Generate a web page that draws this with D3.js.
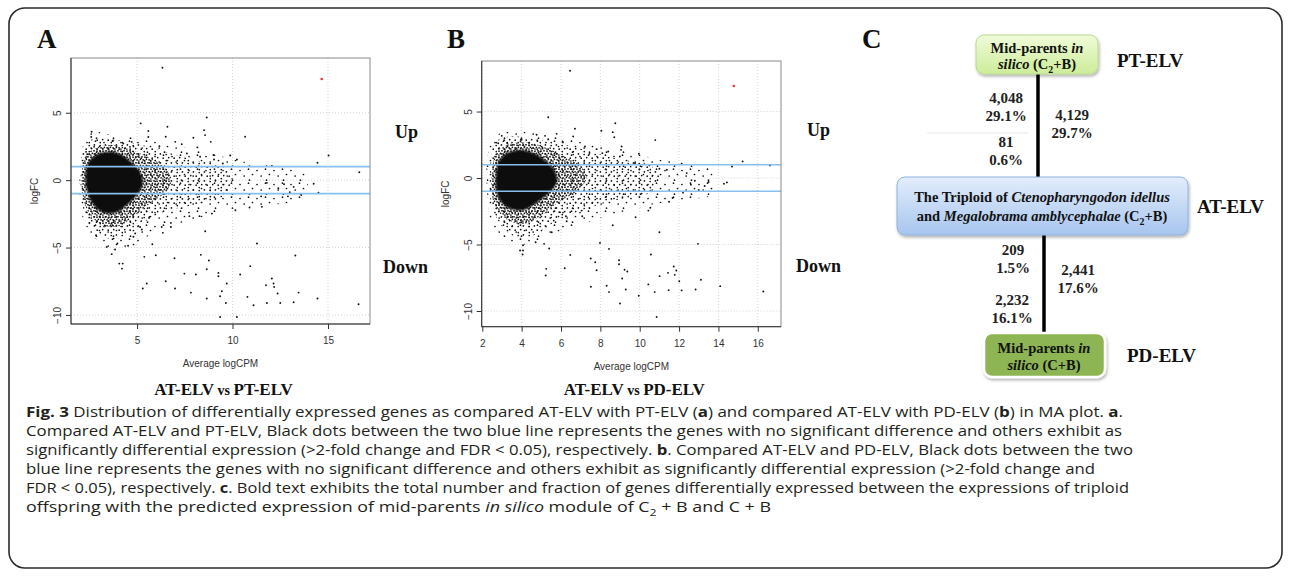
<!DOCTYPE html>
<html>
<head>
<meta charset="utf-8">
<script src="https://cdn.jsdelivr.net/npm/d3@7"></script>
<style>
  body { margin: 0; background: #fff; }
  svg { display: block; }
  .serif { font-family: "Liberation Serif", "Times New Roman", serif; font-weight: bold; fill: #111; }
  .tick text { font-family: "Liberation Sans", Arial, sans-serif; font-size: 10px; fill: #333; }
  .axlab { font-family: "Liberation Sans", Arial, sans-serif; font-size: 10px; fill: #333; }
  .cap { font-family: "Open Sans", "Noto Sans", sans-serif; font-size: 14px; fill: #231f20; }
</style>
</head>
<body>
<svg id="fig" width="1290" height="578"></svg>
<script>
// ---- data: MA plot axes
const xTicksA = [5, 10, 15];
const xTicksB = [2, 4, 6, 8, 10, 12, 14, 16];
const yTicks = [5, 0, -5, -10];
const foldCut = [1, -1]; // blue lines (logFC = +/-1)

// density outlines of the dense cloud (logCPM, logFC)
const coreA = [[2.3,0.3],[2.45,1.3],[2.9,1.9],[3.6,2.1],[4.3,1.8],[4.8,1.2],[5.2,0.5],[5.3,-0.3],[5.0,-1.1],[4.5,-1.8],[3.9,-2.4],[3.2,-2.4],[2.7,-1.8],[2.4,-0.9]];
const denseA = [[2.1,0.5],[2.3,1.8],[2.9,2.4],[3.7,2.6],[4.6,2.3],[5.6,1.7],[6.4,1.0],[6.8,0.0],[6.4,-1.0],[5.6,-1.8],[4.8,-2.7],[4.1,-3.4],[3.3,-3.4],[2.6,-2.7],[2.2,-1.5]];
const mediumA = [[2.05,0.5],[2.2,2.5],[2.8,3.1],[3.8,3.0],[5.0,2.7],[6.5,2.1],[8.0,1.5],[9.5,1.0],[10.0,0.2],[9.5,-1.2],[8.0,-1.8],[6.5,-2.3],[5.5,-3.0],[4.6,-3.9],[3.8,-4.4],[3.0,-4.0],[2.4,-3.0],[2.1,-1.5]];
const sparseA = [[2.1,2.0],[2.5,3.6],[3.5,3.4],[5.0,3.2],[7.0,2.6],[8.8,2.0],[10.5,1.4],[12.2,1.1],[13.8,0.4],[13.8,-1.3],[12.3,-1.8],[10.5,-2.0],[8.8,-2.6],[7.0,-3.3],[5.5,-4.2],[4.4,-5.2],[3.5,-5.0],[2.6,-4.0],[2.1,-2.5]];

const coreB = [[2.7,0.3],[2.85,1.3],[3.3,1.9],[4.0,2.1],[4.7,1.8],[5.3,1.2],[5.7,0.5],[5.8,-0.3],[5.4,-1.1],[4.8,-1.8],[4.1,-2.4],[3.4,-2.3],[2.9,-1.7],[2.7,-0.8]];
const denseB = [[2.5,0.5],[2.7,1.9],[3.3,2.5],[4.2,2.7],[5.2,2.3],[6.2,1.6],[7.0,0.9],[7.3,0.0],[6.8,-1.0],[5.9,-1.8],[5.0,-2.8],[4.3,-3.4],[3.5,-3.3],[2.8,-2.5],[2.5,-1.4]];
const mediumB = [[2.4,0.5],[2.6,2.6],[3.3,3.1],[4.5,3.0],[6.0,2.6],[7.5,2.0],[9.0,1.4],[10.5,1.0],[11.0,0.0],[10.5,-1.1],[9.0,-1.6],[7.5,-2.2],[6.3,-2.9],[5.2,-3.7],[4.3,-4.5],[3.4,-4.2],[2.8,-3.2],[2.4,-1.5]];
const sparseB = [[2.3,2.0],[2.8,3.3],[4.0,3.5],[5.5,3.2],[7.5,2.6],[9.3,2.0],[11.0,1.4],[12.5,1.1],[13.6,0.6],[13.7,-1.2],[12.5,-1.6],[11.0,-1.9],[9.5,-2.4],[8.0,-3.0],[6.5,-3.8],[5.0,-4.6],[4.0,-5.0],[3.2,-4.6],[2.5,-3.5],[2.3,-2.0]];

// individual genes outside the cloud
const pointsA = [
  [6.33,8.34],[8.65,4.65],[5.19,4.21],[6.59,3.96],[5.59,3.64],[5.59,3.2],[8.51,3.71],[8.56,3.34],[10.66,3.22],[8.86,2.84],
  [7.95,3.14],[6.5,3.22],[7.0,2.84],[15.03,1.83],[14.45,1.29],[16.64,0.59],[9.88,1.83],[10.23,1.53],[12.06,1.06],[14.25,-0.27],
  [14.5,-0.94],[2.62,3.59],[2.6,3.2],[2.33,2.1],[3.73,2.92],[4.28,2.72],[4.72,2.84],[4.63,2.47],[2.75,2.47],[2.39,1.93],
  [6.17,2.52],[7.34,2.67],[7.61,1.98],[8.16,2.43],[8.3,1.73],[9.0,1.86],[9.03,1.53],[9.49,1.24],
  [13.2,-0.5],[13.0,-0.9],[12.7,-0.3],[12.4,-0.6],[11.8,-0.2],[11.5,-1.2],[13.6,-1.1],[12.9,-1.2],
  [11.28,-4.7],[13.29,-5.59],[5.8,-4.75],[5.98,-5.57],[5.38,-5.69],[4.07,-6.19],[4.25,-6.19],[4.21,-6.56],[6.96,-5.79],[8.34,-5.54],
  [8.76,-5.96],[10.93,-6.38],[7.48,-6.93],[8.08,-7.0],[8.65,-6.61],[9.26,-6.88],[9.26,-7.13],[10.4,-7.0],[6.5,-7.5],[5.51,-7.67],
  [5.3,-8.04],[6.99,-8.04],[9.7,-7.67],[9.44,-8.24],[7.82,-8.34],[8.65,-8.78],[9.35,-8.61],[9.65,-9.11],[10.78,-8.66],[11.1,-9.28],
  [11.8,-9.11],[12.06,-7.3],[12.15,-7.67],[12.18,-7.92],[11.75,-7.8],[12.36,-8.41],[12.5,-9.11],[13.2,-9.06],[13.46,-8.34],[14.45,-8.78],
  [16.6,-9.21],[9.35,-10.15],[10.23,-10.15],[10.15,-2.23],[11.54,-1.98],[8.57,-3.79],[7.74,-2.67],[8.27,-2.67],[8.92,-2.48],[6.29,-3.47],
  [6.35,-3.91],[6.77,-3.17],[6.77,-3.47],[5.63,-2.8],[5.16,-3.47],[5.25,-3.66],[3.41,-4.95],[3.67,-5.49],[3.85,-5.14],[3.97,-4.7],
  [4.53,-4.87],[2.5,-3.17],[2.85,-4.08],[4.81,-4.2],[4.9,-3.95],[10.89,-2.03]
];
const pointsB = [
  [6.46,8.07],[5.35,4.57],[6.71,3.7],[8.76,4.12],[8.05,3.55],[8.63,3.45],[8.71,3.07],[10.79,2.85],[4.76,3.25],[2.99,3.17],
  [5.78,3.32],[4.0,2.87],[9.96,1.82],[12.13,1.07],[15.23,1.25],[14.69,0.87],[16.62,0.95],[14.28,-0.43],[14.43,-0.33],[9.05,2.12],
  [10.49,0.95],[11.38,0.62],[2.81,2.62],[3.27,2.62],[5.19,3.17],[5.35,2.92],[6.08,2.75],[6.62,3.12],[7.22,2.37],[7.81,2.17],
  [8.1,1.87],[8.4,2.0],[9.08,2.37],[8.99,1.62],[9.76,1.12],[11.0,0.7],[12.39,0.37],
  [12.8,-0.2],[13.3,-0.6],[13.0,-0.9],[12.6,-0.5],[13.5,-0.3],[12.2,-1.1],
  [8.63,-3.55],[11.0,-4.08],[9.79,-2.95],[5.53,-4.08],[4.71,-4.83],[5.14,-4.95],[4.07,-5.05],[3.92,-5.45],[4.07,-5.45],[4.05,-5.75],
  [12.96,-4.95],[5.4,-5.3],[7.98,-4.88],[8.44,-5.33],[6.47,-5.78],[10.57,-5.75],[7.51,-6.05],[7.74,-6.33],[7.81,-6.93],[8.95,-6.18],
  [8.95,-6.48],[5.25,-6.83],[5.22,-7.33],[6.19,-6.78],[9.23,-6.9],[9.37,-7.03],[9.11,-7.55],[11.73,-6.65],[11.86,-6.95],[11.78,-7.28],
  [11.44,-7.13],[11.01,-7.38],[12.01,-7.76],[13.11,-7.65],[10.44,-8.0],[7.52,-8.18],[8.32,-8.1],[8.44,-8.58],[9.29,-8.38],[10.76,-8.58],
  [11.47,-8.43],[12.13,-8.45],[12.84,-8.38],[14.09,-8.13],[9.95,-8.85],[9.0,-9.43],[10.86,-10.45],[16.28,-8.53],[10.44,-2.45],[10.54,-2.23],
  [11.49,-1.78],[11.67,-1.5],[7.05,-2.45],[7.08,-2.88],[6.25,-2.88],[6.29,-3.25],[5.95,-2.58]
];
const redA = [[14.67, 7.5]];
const redB = [[14.78, 6.92]];

// ---- data: panel C
const levelNames = ["PT-ELV", "AT-ELV", "PD-ELV"];
const upperCounts = [["4,048", "29.1%"], ["81", "0.6%"], ["4,129", "29.7%"]];
const lowerCounts = [["209", "1.5%"], ["2,441", "17.6%"], ["2,232", "16.1%"]];
const boxTop = [[["Mid-parents ", ""], ["in", "i"]], [["silico", "i"], [" (C", ""], ["2", "sub"], ["+B)", ""]]];
const boxMid = [[["The Triploid of ", ""], ["Ctenopharyngodon idellus", "i"]],
                [["and ", ""], ["Megalobrama amblycephalae", "i"], [" (C", ""], ["2", "sub"], ["+B)", ""]]];
const boxLow = [[["Mid-parents ", ""], ["in", "i"]], [["silico", "i"], [" (C+B)", ""]]];

// ---- data: caption
const captionLines = [
  [["Fig. 3", "b"], [" Distribution of differentially expressed genes as compared AT-ELV with PT-ELV (", ""], ["a", "b"], [") and compared AT-ELV with PD-ELV (", ""], ["b", "b"], [") in MA plot. ", ""], ["a", "b"], [".", ""]],
  [["Compared AT-ELV and PT-ELV, Black dots between the two blue line represents the genes with no significant difference and others exhibit as", ""]],
  [["significantly differential expression (>2-fold change and FDR < 0.05), respectively. ", ""], ["b", "b"], [". Compared AT-ELV and PD-ELV, Black dots between the two", ""]],
  [["blue line represents the genes with no significant difference and others exhibit as significantly differential expression (>2-fold change and", ""]],
  [["FDR < 0.05), respectively. ", ""], ["c", "b"], [". Bold text exhibits the total number and fraction of genes differentially expressed between the expressions of triploid", ""]],
  [["offspring with the predicted expression of mid-parents ", ""], ["in silico", "i"], [" module of C", ""], ["2", "sub"], [" + B and C + B", ""]]
];

// ---- drawing
const svg = d3.select("#fig");
svg.append("rect").attr("width", 1290).attr("height", 578).attr("fill", "#fff");
const defs = svg.append("defs");

function dotPattern(id, w, h, pts) {
  const p = defs.append("pattern").attr("id", id)
    .attr("patternUnits", "userSpaceOnUse").attr("width", w).attr("height", h);
  pts.forEach(([cx, cy]) => p.append("circle").attr("cx", cx).attr("cy", cy).attr("r", 0.85).attr("fill", "#111"));
}
dotPattern("patDense", 6, 6, [[1.0,1.2],[4.0,0.8],[2.4,3.3],[5.1,3.8],[0.9,5.0]]);
dotPattern("patMedium", 11, 9, [[1.2,1.5],[6.4,0.9],[3.7,4.6],[9.2,5.2],[1.3,7.6]]);
dotPattern("patSparse", 17, 14, [[2,2.5],[10.5,1.2],[6.2,8.0],[14.5,6.5],[11.5,12.2]]);
defs.append("filter").attr("id", "soft").append("feGaussianBlur").attr("stdDeviation", 1.3);

function grad(id, top, bottom) {
  const g = defs.append("linearGradient").attr("id", id).attr("x1", 0).attr("y1", 0).attr("x2", 0).attr("y2", 1);
  g.append("stop").attr("offset", "0%").attr("stop-color", top);
  g.append("stop").attr("offset", "100%").attr("stop-color", bottom);
}
grad("gGreen", "#f0fbd9", "#cdec9a");
grad("gBlue", "#e3edfc", "#a7c5ee");
const shadow = defs.append("filter").attr("id", "shadow").attr("x", "-10%").attr("y", "-10%").attr("width", "130%").attr("height", "140%");
shadow.append("feDropShadow").attr("dx", 1).attr("dy", 2).attr("stdDeviation", 1.5).attr("flood-color", "#000").attr("flood-opacity", 0.3);

// outer rounded frame
svg.append("rect").attr("x", 9).attr("y", 8).attr("width", 1273).attr("height", 560).attr("rx", 16)
  .attr("fill", "none").attr("stroke", "#2b2b2b").attr("stroke-width", 1.6);

function drawMA(p) {
  const g = svg.append("g");
  const [xl, xr] = p.x.range();
  const [yb, yt] = p.y.range();
  const clipId = "clip" + p.name;
  defs.append("clipPath").attr("id", clipId).append("rect")
    .attr("x", xl).attr("y", yt).attr("width", xr - xl).attr("height", yb - yt);

  // grid
  g.selectAll("line.gx").data(p.xTicks).join("line").attr("class", "gx")
    .attr("x1", d => p.x(d)).attr("x2", d => p.x(d)).attr("y1", yt).attr("y2", yb)
    .attr("stroke", "#d4d4d4").attr("stroke-dasharray", "1,2");
  g.selectAll("line.gy").data(yTicks).join("line").attr("class", "gy")
    .attr("y1", d => p.y(d)).attr("y2", d => p.y(d)).attr("x1", xl).attr("x2", xr)
    .attr("stroke", "#d4d4d4").attr("stroke-dasharray", "1,2");

  // dense cloud
  const cloud = d3.line().x(d => p.x(d[0])).y(d => p.y(d[1])).curve(d3.curveCatmullRomClosed.alpha(0.5));
  const cg = g.append("g").attr("clip-path", `url(#${clipId})`);
  cg.append("path").attr("d", cloud(p.sparse)).attr("fill", "url(#patSparse)");
  cg.append("path").attr("d", cloud(p.medium)).attr("fill", "url(#patMedium)");
  cg.append("path").attr("d", cloud(p.dense)).attr("fill", "url(#patDense)");
  cg.append("path").attr("d", cloud(p.core)).attr("fill", "#0a0a0a").attr("filter", "url(#soft)");

  g.selectAll("circle.pt").data(p.points).join("circle").attr("class", "pt")
    .attr("cx", d => p.x(d[0])).attr("cy", d => p.y(d[1])).attr("r", 0.95).attr("fill", "#111");
  g.selectAll("circle.red").data(p.red).join("circle").attr("class", "red")
    .attr("cx", d => p.x(d[0])).attr("cy", d => p.y(d[1])).attr("r", 1.3).attr("fill", "#e8333a");

  // fold change cutoffs
  g.selectAll("line.cut").data(foldCut).join("line").attr("class", "cut")
    .attr("x1", xl).attr("x2", xr).attr("y1", d => p.y(d)).attr("y2", d => p.y(d))
    .attr("stroke", "#86c0f0").attr("stroke-width", 1.6);

  // frame
  g.append("rect").attr("x", xl).attr("y", yt).attr("width", xr - xl).attr("height", yb - yt)
    .attr("fill", "none").attr("stroke", "#8a8a8a").attr("stroke-width", 1);

  // axes
  const ax = g.append("g").attr("transform", `translate(0,${yb})`)
    .call(d3.axisBottom(p.x).tickValues(p.xTicks).tickSize(5).tickPadding(8).tickSizeOuter(0));
  ax.select(".domain").attr("d", `M${xl},0H${xr}`).attr("stroke", "#333");
  const ay = g.append("g").attr("transform", `translate(${xl},0)`)
    .call(d3.axisLeft(p.y).tickValues(yTicks).tickSize(5).tickSizeOuter(0).tickFormat(d3.format("d")));
  ay.select(".domain").attr("d", `M0,${yb}V${yt}`).attr("stroke", "#333");
  ay.selectAll(".tick text").attr("transform", "rotate(-90)").attr("x", 0).attr("y", -10)
    .attr("dy", "0").style("text-anchor", "middle");
  g.selectAll(".tick line").attr("stroke", "#333");

  g.append("text").attr("class", "axlab").attr("x", (xl + xr) / 2).attr("y", yb + 43)
    .attr("text-anchor", "middle").text("Average logCPM");
  g.append("text").attr("class", "axlab")
    .attr("transform", `translate(${xl - 33},${(yb + yt) / 2}) rotate(-90)`)
    .attr("text-anchor", "middle").text("logFC");

  // panel letter, side labels, subtitle
  g.append("text").attr("class", "serif").attr("x", p.letterX).attr("y", 48).attr("font-size", 27).text(p.name);
  g.append("text").attr("class", "serif").attr("x", p.upX).attr("y", p.upY).attr("font-size", 18).text("Up");
  g.append("text").attr("class", "serif").attr("x", p.downX).attr("y", p.downY).attr("font-size", 18).text("Down");
  const st = g.append("text").attr("class", "serif").attr("x", (xl + xr) / 2 + 3).attr("y", 395)
    .attr("text-anchor", "middle").attr("font-size", 17).attr("font-weight", "normal");
  st.append("tspan").text(p.subtitle[0]);
  st.append("tspan").attr("font-size", 14).attr("font-weight", "bold").text(" vs ");
  st.append("tspan").text(p.subtitle[1]);
}

drawMA({
  name: "A", letterX: 37,
  x: d3.scaleLinear().domain([1.54, 17.2]).range([71, 370]),
  y: d3.scaleLinear().domain([-10.67, 9.06]).range([324, 58]),
  xTicks: xTicksA, core: coreA, dense: denseA, medium: mediumA, sparse: sparseA,
  points: pointsA, red: redA,
  upX: 395, upY: 138, downX: 383, downY: 273, subtitle: ["AT-ELV", "PT-ELV"]
});
drawMA({
  name: "B", letterX: 447,
  x: d3.scaleLinear().domain([1.97, 17.18]).range([481.7, 781]),
  y: d3.scaleLinear().domain([-11.18, 8.8]).range([326.7, 61]),
  xTicks: xTicksB, core: coreB, dense: denseB, medium: mediumB, sparse: sparseB,
  points: pointsB, red: redB,
  upX: 807, upY: 136, downX: 796, downY: 272, subtitle: ["AT-ELV", "PD-ELV"]
});

// rich text helper: segments [text, style]
function rich(textSel, segs, size) {
  let shift = 0;
  segs.forEach(([t, s]) => {
    const ts = textSel.append("tspan").text(t);
    if (s === "b") ts.attr("font-weight", "bold");
    if (s === "i") ts.attr("font-style", "italic");
    if (s === "sub") {
      ts.attr("dy", size * 0.3).attr("font-size", size * 0.68);
      shift = size * 0.3;
    } else if (shift) {
      ts.attr("dy", -shift);
      shift = 0;
    }
  });
}

// ---- panel C
const gc = svg.append("g");
gc.append("text").attr("class", "serif").attr("x", 862).attr("y", 48).attr("font-size", 27).text("C");

// connectors
gc.append("line").attr("x1", 1038).attr("x2", 1038).attr("y1", 72).attr("y2", 178).attr("stroke", "#000").attr("stroke-width", 3.5);
gc.append("line").attr("x1", 1044).attr("x2", 1044).attr("y1", 234).attr("y2", 334).attr("stroke", "#000").attr("stroke-width", 3.5);
gc.append("line").attr("x1", 927).attr("x2", 1028).attr("y1", 133).attr("y2", 133).attr("stroke", "#e6e6e6").attr("stroke-width", 1);

const boxes = [
  { x: 976, y: 35, w: 122, h: 39, fill: "url(#gGreen)", stroke: "#b9da8e", lines: boxTop, cx: 1037, base: [53, 69], size: 14.5, level: levelNames[0], lx: 1117, ly: 67 },
  { x: 897, y: 177, w: 291, h: 58, fill: "url(#gBlue)", stroke: "#8fb2df", lines: boxMid, cx: 1042, base: [202, 221], size: 14.5, level: levelNames[1], lx: 1197, ly: 213 },
  { x: 984, y: 333, w: 121, h: 44, fill: "#8db553", stroke: "#ffffff", lines: boxLow, cx: 1044, base: [353, 370], size: 14.5, level: levelNames[2], lx: 1127, ly: 362 }
];
boxes.forEach(b => {
  gc.append("rect").attr("x", b.x).attr("y", b.y).attr("width", b.w).attr("height", b.h).attr("rx", 8)
    .attr("fill", b.fill).attr("stroke", b.stroke).attr("stroke-width", b.stroke === "#ffffff" ? 2.5 : 1)
    .attr("filter", "url(#shadow)");
  b.lines.forEach((segs, i) => {
    const t = gc.append("text").attr("class", "serif").attr("x", b.cx).attr("y", b.base[i])
      .attr("text-anchor", "middle").attr("font-size", b.size);
    rich(t, segs, b.size);
  });
  gc.append("text").attr("class", "serif").attr("x", b.lx).attr("y", b.ly).attr("font-size", 19).text(b.level);
});

const countPos = [[1006, 103], [1006, 147], [1072, 120], [1013, 255], [1078, 275], [1012, 305]];
upperCounts.concat(lowerCounts).forEach(([n, pct], i) => {
  const [cx, by] = countPos[i];
  const t = gc.append("text").attr("class", "serif").attr("text-anchor", "middle").attr("font-size", 15).style("fill", "#222");
  t.append("tspan").attr("x", cx).attr("y", by).text(n);
  t.append("tspan").attr("x", cx).attr("y", by + 18).text(pct);
});

// ---- caption
const capEnds = [1123, 1122, 1133, 1095, 1129, 771];
captionLines.forEach((segs, i) => {
  const t = svg.append("text").attr("class", "cap").attr("x", 26).attr("y", 417 + i * 19)
    .attr("textLength", capEnds[i] - 26).attr("lengthAdjust", "spacingAndGlyphs");
  rich(t, segs, 14);
});
</script>
</body>
</html>
